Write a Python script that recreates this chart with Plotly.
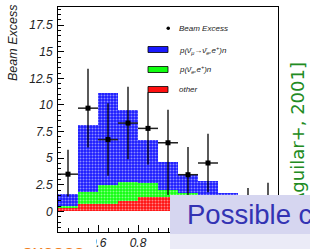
import plotly.graph_objects as go

# ---- data ----
bin_centers = [0.45, 0.55, 0.65, 0.75, 0.85, 0.95, 1.05, 1.15, 1.25, 1.35, 1.45]
other_bkg = [0.35, 0.70, 0.70, 1.00, 1.35, 1.40, 1.35, 1.30, 1.20, 1.10, 1.00]
nue_bkg = [0.20, 1.10, 1.80, 1.80, 1.30, 0.65, 0.35, 0.15, 0.15, 0.15, 0.15]
osc_signal = [1.10, 6.30, 8.60, 6.70, 4.10, 2.60, 1.75, 1.45, 0.35, 0.20, 0.15]
beam_excess = [3.5, 9.7, 6.75, 8.3, 7.8, 6.45, 3.45, 4.55, -0.5, 0.2, 0.3]
err_plus = [2.3, 3.7, 3.4, 3.4, 3.4, 3.1, 2.6, 2.75, 1.8, 2.0, 2.4]
err_minus = [2.1, 3.7, 3.4, 3.4, 3.4, 4.9, 2.6, 2.75, 1.8, 2.0, 2.4]
half_bin = [0.05] * 11

x_ticks = [0.4, 0.6, 0.8, 1.0, 1.2, 1.4]
x_ticklabels = ["0.4", "0.6", "0.8", "1", "1.2", "1.4"]
y_ticks = [0, 2.5, 5, 7.5, 10, 12.5, 15, 17.5]
y_ticklabels = ["0", "2.5", "5", "7.5", "10", "12.5", "15", "17.5"]

legend_labels = ["Beam Excess",
                 "p(ν̄<sub>μ</sub>→ν̄<sub>e</sub>,e<sup>+</sup>)n",
                 "p(ν̄<sub>e</sub>,e<sup>+</sup>)n",
                 "other"]

W, H = 310, 249
ML, MR, MT, MB = 58, 32, 7, 17
PW, PH = W - ML - MR, H - MT - MB


def px(xp):
    return (xp - ML) / PW


def py(yp):
    return (H - MB - yp) / PH


BLUE, GREEN, RED = "#1a1aff", "#10ff10", "#ff1010"


def pat(c):
    return dict(shape=".", size=3, solidity=0.35, fgcolor="white", bgcolor=c)


fig = go.Figure()
fig.add_bar(x=bin_centers, y=other_bkg, width=0.1, marker=dict(color=RED, pattern=pat(RED), line_width=0))
fig.add_bar(x=bin_centers, y=nue_bkg, width=0.1, marker=dict(color=GREEN, pattern=pat(GREEN), line_width=0))
fig.add_bar(x=bin_centers, y=osc_signal, width=0.1, marker=dict(color=BLUE, pattern=pat(BLUE), line_width=0))
fig.add_scatter(x=bin_centers, y=beam_excess, mode="markers",
                marker=dict(symbol="square", size=5, color="black"),
                error_x=dict(type="data", array=half_bin, width=0, thickness=1.5, color="#222"),
                error_y=dict(type="data", array=err_plus, arrayminus=err_minus, width=0,
                             thickness=1.3, color="black"))

axfont = dict(family="Liberation Sans", size=12, color="#222", style="italic")
fig.update_layout(
    width=W, height=H, margin=dict(l=ML, r=MR, t=MT, b=MB, autoexpand=False),
    paper_bgcolor="white", plot_bgcolor="white", showlegend=False,
    barmode="stack", bargap=0,
    xaxis=dict(range=[0.4, 1.5], tickvals=x_ticks, ticktext=x_ticklabels, ticks="inside",
               ticklen=7, tickcolor="black", showline=True, linecolor="black", linewidth=1,
               mirror=True, showgrid=False, zeroline=False, tickfont=axfont, automargin=False,
               minor=dict(dtick=0.05, ticklen=4, ticks="inside", tickcolor="black")),
    yaxis=dict(range=[-1.93, 19.2], tickvals=y_ticks, ticktext=y_ticklabels, ticks="inside",
               ticklen=6, tickcolor="black", showline=True, linecolor="black", linewidth=1,
               mirror=True, showgrid=False, zeroline=False, tickfont=axfont, automargin=False,
               ticklabelstandoff=2,
               minor=dict(dtick=0.5, ticklen=3, ticks="inside", tickcolor="black")),
)

shapes = []
# legend swatches
for yc, c in [(49.5, BLUE), (69.5, GREEN), (89.5, RED)]:
    shapes.append(dict(type="rect", xref="paper", yref="paper", layer="above",
                       x0=px(148), x1=px(168), y0=py(yc - 3), y1=py(yc + 3),
                       fillcolor=c, line=dict(color="black", width=0.8)))
shapes.append(dict(type="circle", xref="paper", yref="paper", layer="above",
                   x0=px(166.5), x1=px(170), y0=py(26.5), y1=py(30),
                   fillcolor="black", line=dict(color="black", width=0)))
# white box behind the orange text
shapes.append(dict(type="rect", xref="paper", yref="paper", layer="above",
                   x0=px(-5), x1=px(96), y0=py(236), y1=py(260),
                   fillcolor="white", line=dict(width=0)))
fig.update_layout(shapes=shapes)

legfont = dict(family="Liberation Sans", size=8, color="#222", style="italic")
anns = []
# y-axis title
anns.append(dict(text="Beam Excess", textangle=-90, xref="paper", yref="paper",
                 x=px(13), y=py(43), xanchor="center", yanchor="middle", showarrow=False,
                 font=dict(family="Liberation Sans", size=12.5, color="#222", style="italic")))
for yc, t in zip([28, 50, 69.5, 89.5], legend_labels):
    anns.append(dict(text=t, xref="paper", yref="paper", x=px(177), y=py(yc),
                     xanchor="left", yanchor="middle", showarrow=False, font=legfont))
# citation
anns.append(dict(text="[Aguilar+, 2001]", textangle=-90, xref="paper", yref="paper",
                 x=px(297), y=py(137), xanchor="center", yanchor="middle", showarrow=False,
                 font=dict(family="DejaVu Sans", size=18, color="#228B22")))
# orange text (cut at the bottom)
anns.append(dict(text="excess", xref="paper", yref="paper", x=px(20), y=py(251.5),
                 xanchor="left", yanchor="middle", showarrow=False,
                 font=dict(family="Liberation Sans", size=20, color="#f07f1f")))
# popup block
anns.append(dict(text=" ", xref="paper", yref="paper", x=px(170), y=py(195),
                 xanchor="left", yanchor="top", showarrow=False, width=145, height=39,
                 bgcolor="rgb(214,214,240)", borderpad=0, borderwidth=0))
anns.append(dict(text=" ", xref="paper", yref="paper", x=px(170), y=py(234),
                 xanchor="left", yanchor="top", showarrow=False, width=145, height=20,
                 bgcolor="rgb(235,235,247)", borderpad=0, borderwidth=0))
anns.append(dict(text="Possible confirmation", xref="paper", yref="paper", x=px(185), y=py(214),
                 xanchor="left", yanchor="middle", showarrow=False,
                 font=dict(family="Liberation Sans", size=27.5, color="#3333B3")))
fig.update_layout(annotations=anns)

fig.write_html("out.html", config={"displayModeBar": False},
               post_script="document.body.style.margin='0px';")
